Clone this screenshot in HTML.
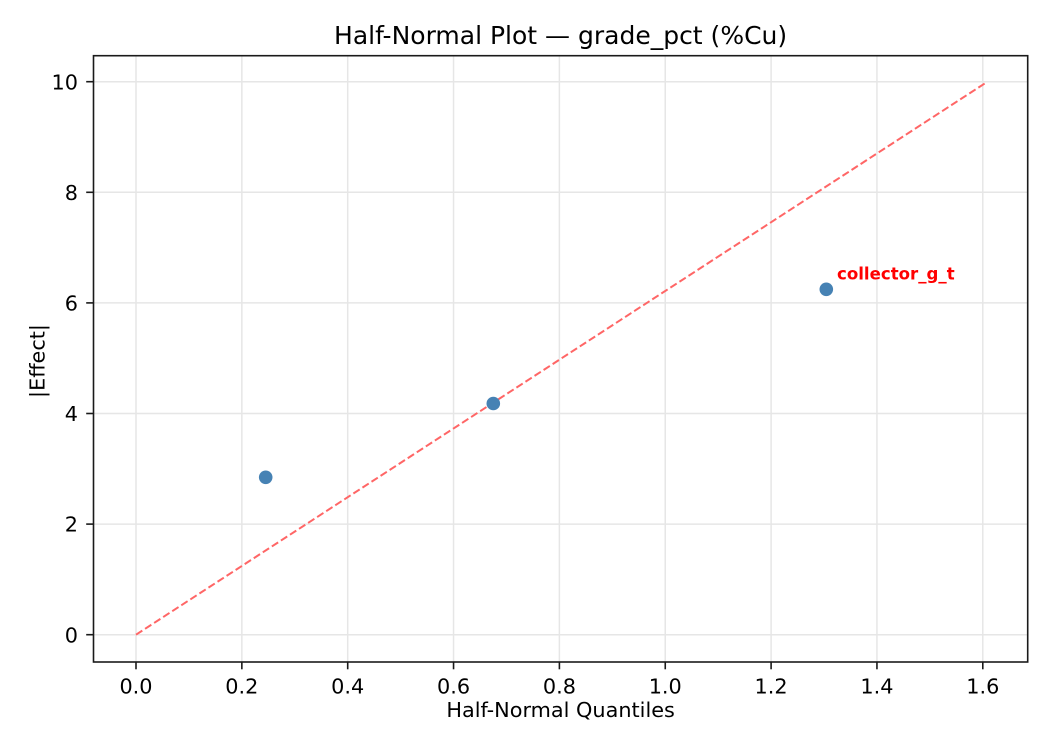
<!DOCTYPE html>
<html>
<head>
<meta charset="utf-8">
<style>
  html, body { margin: 0; padding: 0; background: #ffffff; }
  svg { display: block; }
  text { font-family: "DejaVu Sans", "Liberation Sans", sans-serif; fill: #000; }
</style>
</head>
<body>
<svg width="1050" height="750" viewBox="0 0 1050 750" xmlns="http://www.w3.org/2000/svg">
  <rect x="0" y="0" width="1050" height="750" fill="#ffffff"/>

  <!-- grid -->
  <g stroke="#e6e6e6" stroke-width="1.5">
    <line x1="136" y1="56" x2="136" y2="662"/>
    <line x1="241.85" y1="56" x2="241.85" y2="662"/>
    <line x1="347.7" y1="56" x2="347.7" y2="662"/>
    <line x1="453.55" y1="56" x2="453.55" y2="662"/>
    <line x1="559.4" y1="56" x2="559.4" y2="662"/>
    <line x1="665.25" y1="56" x2="665.25" y2="662"/>
    <line x1="771.1" y1="56" x2="771.1" y2="662"/>
    <line x1="876.95" y1="56" x2="876.95" y2="662"/>
    <line x1="982.8" y1="56" x2="982.8" y2="662"/>

    <line x1="94" y1="634.7" x2="1028" y2="634.7"/>
    <line x1="94" y1="524.1" x2="1028" y2="524.1"/>
    <line x1="94" y1="413.5" x2="1028" y2="413.5"/>
    <line x1="94" y1="302.9" x2="1028" y2="302.9"/>
    <line x1="94" y1="192.3" x2="1028" y2="192.3"/>
    <line x1="94" y1="81.7" x2="1028" y2="81.7"/>
  </g>

  <!-- reference line -->
  <line x1="136" y1="634.7" x2="985" y2="83.3" stroke="#ff6666" stroke-width="2" stroke-dasharray="7.5,3.3"/>

  <!-- points -->
  <g fill="#4682b4">
    <circle cx="265.7" cy="477.3" r="6.8"/>
    <circle cx="493.3" cy="403.5" r="6.8"/>
    <circle cx="826.3" cy="289.3" r="6.8"/>
  </g>

  <!-- annotation -->
  <text x="837" y="279.4" font-size="16.6" font-weight="bold" style="fill:#ff0000">collector_g_t</text>

  <!-- axes frame -->
  <rect x="93.5" y="55.7" width="934.2" height="606.3" fill="none" stroke="#1a1a1a" stroke-width="1.6"/>

  <!-- ticks -->
  <g stroke="#1a1a1a" stroke-width="1.6">
    <line x1="136" y1="662" x2="136" y2="669.3"/>
    <line x1="241.85" y1="662" x2="241.85" y2="669.3"/>
    <line x1="347.7" y1="662" x2="347.7" y2="669.3"/>
    <line x1="453.55" y1="662" x2="453.55" y2="669.3"/>
    <line x1="559.4" y1="662" x2="559.4" y2="669.3"/>
    <line x1="665.25" y1="662" x2="665.25" y2="669.3"/>
    <line x1="771.1" y1="662" x2="771.1" y2="669.3"/>
    <line x1="876.95" y1="662" x2="876.95" y2="669.3"/>
    <line x1="982.8" y1="662" x2="982.8" y2="669.3"/>

    <line x1="86.2" y1="634.7" x2="93.5" y2="634.7"/>
    <line x1="86.2" y1="524.1" x2="93.5" y2="524.1"/>
    <line x1="86.2" y1="413.5" x2="93.5" y2="413.5"/>
    <line x1="86.2" y1="302.9" x2="93.5" y2="302.9"/>
    <line x1="86.2" y1="192.3" x2="93.5" y2="192.3"/>
    <line x1="86.2" y1="81.7" x2="93.5" y2="81.7"/>
  </g>

  <!-- x tick labels -->
  <g font-size="20.8" text-anchor="middle">
    <text x="136" y="693.5">0.0</text>
    <text x="241.85" y="693.5">0.2</text>
    <text x="347.7" y="693.5">0.4</text>
    <text x="453.55" y="693.5">0.6</text>
    <text x="559.4" y="693.5">0.8</text>
    <text x="665.25" y="693.5">1.0</text>
    <text x="771.1" y="693.5">1.2</text>
    <text x="876.95" y="693.5">1.4</text>
    <text x="982.8" y="693.5">1.6</text>
  </g>

  <!-- y tick labels -->
  <g font-size="20.8" text-anchor="end">
    <text x="78" y="642.3">0</text>
    <text x="78" y="531.7">2</text>
    <text x="78" y="421.1">4</text>
    <text x="78" y="310.5">6</text>
    <text x="78" y="199.9">8</text>
    <text x="78" y="89.3">10</text>
  </g>

  <!-- axis labels -->
  <text x="560.6" y="717" font-size="20.8" text-anchor="middle">Half-Normal Quantiles</text>
  <text transform="translate(44.5,361) rotate(-90)" x="0" y="0" font-size="20.8" text-anchor="middle">|Effect|</text>

  <!-- title -->
  <text x="560.6" y="44" font-size="25" text-anchor="middle">Half-Normal Plot — grade_pct (%Cu)</text>
</svg>
</body>
</html>
